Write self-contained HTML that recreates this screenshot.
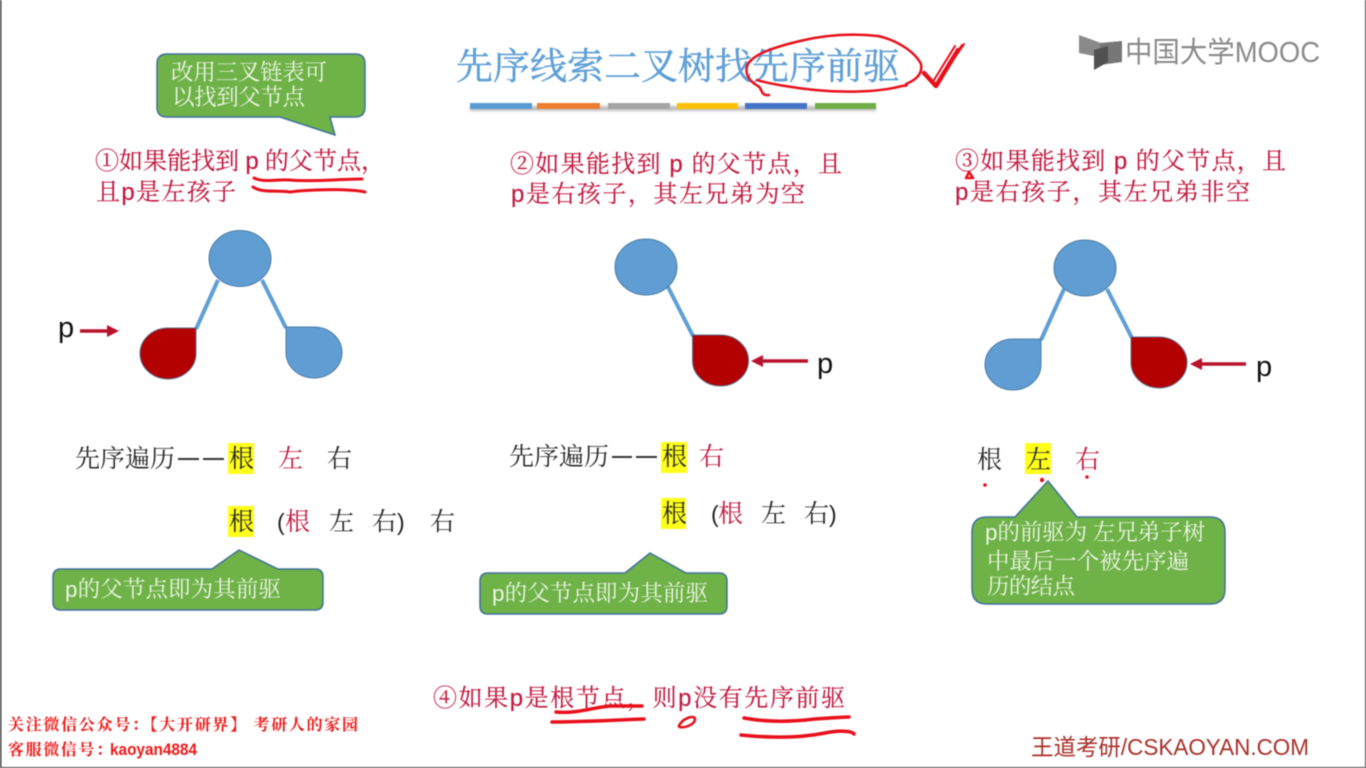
<!DOCTYPE html>
<html lang="zh">
<head>
<meta charset="utf-8">
<style>
html,body{margin:0;padding:0;background:#fff;width:1366px;height:768px;overflow:hidden}
svg{display:block;filter:blur(0.45px)}
text{font-family:"Noto Serif CJK SC","Liberation Serif",serif}
.s{font-family:"Liberation Sans","Noto Sans CJK SC",sans-serif}
.r{fill:#c2183f;font-size:24px;stroke:#c2183f;stroke-width:.15}
.k{fill:#2a2a2a;font-size:25px}
.w{fill:#eef6e6;font-size:22.500px}
.c{fill:#6fb248;stroke:#41719c;stroke-width:1.5}
.n{fill:#5f9dd3;stroke:#4f7da6;stroke-width:1}
.d{fill:#b30000;stroke:#5b6f90;stroke-width:1}
.l{stroke:#5f9fd6;stroke-width:4;fill:none}
.m{stroke:#e8101c;fill:none;stroke-linecap:round;stroke-linejoin:round}
.a{stroke:#b8122c;stroke-width:3.500;fill:none}
.h{fill:#ffff19}
</style>
</head>
<body>
<svg width="1366" height="768" viewBox="0 0 1366 768" xmlns="http://www.w3.org/2000/svg">
<defs><filter id="sh" x="-5%" y="-100%" width="110%" height="300%"><feGaussianBlur stdDeviation="1.2"/></filter></defs>
<rect width="1366" height="768" fill="#fff"/>
<rect x="0" y="0" width="1.5" height="768" fill="#444"/>
<rect x="1365" y="0" width="1" height="768" fill="#444"/>
<rect x="0" y="767" width="1366" height="1" fill="#444"/>

<!-- title -->
<text x="456" y="79" font-size="37" fill="#5f9fd6" stroke="#5f9fd6" stroke-width=".4" textLength="444" lengthAdjust="spacing">先序线索二叉树找先序前驱</text>
<g>
<rect x="470" y="106" width="406" height="5" fill="#888" opacity=".55" filter="url(#sh)"/>
<rect x="470" y="103" width="62" height="6" fill="#5b9bd5"/>
<rect x="537" y="103" width="63" height="6" fill="#ed7d31"/>
<rect x="608" y="103" width="62" height="6" fill="#a5a5a5"/>
<rect x="677" y="103" width="61" height="6" fill="#ffc000"/>
<rect x="745" y="103" width="62" height="6" fill="#4472c4"/>
<rect x="815" y="103" width="61" height="6" fill="#70ad47"/>
</g>
<path class="m" stroke-width="2.500" d="M769 95C760 96 763 89 758 86C749 81 745 74 747 66C752 54 775 47 800 41C825 35 850 33 878 36C897 40 915 52 921 64C923 74 916 80 906 84C908 87 904 85 902 86C880 92 845 93 815 90C795 88 770 84 757 80"/>
<path class="m" stroke-width="4.500" d="M924 73L936 86L958 50"/>
<path class="m" stroke-width="2" d="M936 84L962 45M938 82L964 44M934 80L955 46"/>

<!-- logo -->
<polygon points="1079,35 1112,47 1094,56 1079,53" fill="#8a8a8a"/>
<polygon points="1100,43 1122,41 1122,62 1100,65" fill="#777"/>
<polygon points="1094,50 1108,46 1108,62 1094,70" fill="#505050"/>
<text class="s" x="1125" y="62" font-size="29" fill="#8a8a8a" textLength="195" lengthAdjust="spacingAndGlyphs">中国大学MOOC</text>

<!-- top callout -->
<path class="c" d="M167 54H355Q365 54 365 64V107Q365 117 355 117H330L335 135L280 117H167Q157 117 157 107V64Q157 54 167 54Z"/>
<text class="w" x="171" y="80" textLength="156">改用三叉链表可</text>
<text class="w" x="172" y="105" textLength="133">以找到父节点</text>

<!-- condition texts -->
<text class="r" x="95" y="169" textLength="290">①如果能找到 <tspan class="s">p</tspan> 的父节点，</text>
<text class="r" x="96" y="200" textLength="140">且<tspan class="s">p</tspan>是左孩子</text>
<path class="m" stroke-width="3" d="M254 178C265 183 275 179 290 180C310 182 340 179 362 179"/>
<path class="m" stroke-width="3" d="M253 187C262 193 275 190 290 192C305 190 345 188 365 192"/>

<text class="r" x="510" y="172" textLength="332">②如果能找到 <tspan class="s">p</tspan> 的父节点，且</text>
<text class="r" x="511" y="202" textLength="294"><tspan class="s">p</tspan>是右孩子，其左兄弟为空</text>

<text class="r" x="955" y="169" textLength="331">③如果能找到 <tspan class="s">p</tspan> 的父节点，且</text>
<text class="r" x="955" y="200" textLength="295"><tspan class="s">p</tspan>是右孩子，其左兄弟非空</text>
<path class="m" stroke-width="2.500" d="M969 172L966 178L973 178Z"/>

<!-- tree 1 -->
<line class="l" x1="218" y1="280" x2="196" y2="329"/>
<line class="l" x1="262" y1="280" x2="286" y2="328"/>
<ellipse class="n" cx="240" cy="258.500" rx="31" ry="28"/>
<path class="d" d="M196 328V353.500A28 25.500 0 1 1 168 328Z"/>
<path class="n" d="M286 327V352.500A28 25.500 0 1 0 314 327Z"/>
<text class="s" x="58" y="337" font-size="29" fill="#111">p</text>
<line class="a" x1="80" y1="331" x2="110" y2="331"/>
<polygon points="119,331 107,325 107,337" fill="#b8122c"/>

<!-- tree 2 -->
<line class="l" x1="667" y1="285" x2="693" y2="336"/>
<ellipse class="n" cx="646" cy="267" rx="31" ry="28"/>
<path class="d" d="M692.500 335V360.500A28 25.500 0 1 0 720.500 335Z"/>
<line class="a" x1="808" y1="361" x2="760" y2="361"/>
<polygon points="751,361 763,355 763,367" fill="#b8122c"/>
<text class="s" x="817" y="373" font-size="29" fill="#111">p</text>

<!-- tree 3 -->
<line class="l" x1="1064" y1="289" x2="1041" y2="340"/>
<line class="l" x1="1107" y1="289" x2="1132" y2="338"/>
<ellipse class="n" cx="1085" cy="268" rx="31" ry="28"/>
<path class="n" d="M1041 339V364A28 25.500 0 1 1 1013 339Z"/>
<path class="d" d="M1131 337V362.500A28 25.500 0 1 0 1159 337Z"/>
<line class="a" x1="1246" y1="364" x2="1199" y2="364"/>
<polygon points="1190,364 1202,358 1202,370" fill="#b8122c"/>
<text class="s" x="1256" y="376" font-size="29" fill="#111">p</text>

<!-- traversal 1 -->
<text class="k" x="75" y="467" textLength="100">先序遍历</text>
<rect x="178" y="458" width="21" height="2" fill="#333"/>
<rect x="203" y="458" width="21" height="2" fill="#333"/>
<rect class="h" x="228" y="443" width="26" height="31"/>
<text class="k" x="229" y="467">根</text>
<text class="k" x="278" y="467" style="fill:#c2183f">左</text>
<text class="k" x="327" y="467">右</text>
<rect class="h" x="228" y="506" width="26" height="31"/>
<text class="k" x="229" y="530">根</text>
<text class="s" x="277" y="530" font-size="23" fill="#222">(</text>
<text class="k" x="285" y="530" style="fill:#c2183f">根</text>
<text class="k" x="329" y="530">左</text>
<text class="k" x="372" y="530">右</text>
<text class="s" x="397" y="530" font-size="23" fill="#222">)</text>
<text class="k" x="430" y="530">右</text>

<!-- traversal 2 -->
<text class="k" x="509" y="465" textLength="100">先序遍历</text>
<rect x="612" y="456" width="20" height="2" fill="#333"/>
<rect x="636" y="456" width="21" height="2" fill="#333"/>
<rect class="h" x="661" y="442" width="26" height="31"/>
<text class="k" x="662" y="465">根</text>
<text class="k" x="699" y="465" style="fill:#c2183f">右</text>
<rect class="h" x="661" y="498" width="25" height="31"/>
<text class="k" x="662" y="522">根</text>
<text class="s" x="711" y="522" font-size="23" fill="#222">(</text>
<text class="k" x="718" y="522" style="fill:#c2183f">根</text>
<text class="k" x="761" y="522">左</text>
<text class="k" x="804" y="522">右</text>
<text class="s" x="829" y="522" font-size="23" fill="#222">)</text>

<!-- traversal 3 -->
<rect class="h" x="1025" y="443" width="26" height="31"/>
<text class="k" x="977" y="468">根</text>
<text class="k" x="1026" y="468">左</text>
<text class="k" x="1075" y="468" style="fill:#c2183f">右</text>
<circle cx="985" cy="485" r="1.800" fill="#e8101c"/>
<circle cx="1042" cy="480" r="2.200" fill="#e8101c"/>
<circle cx="1087" cy="477" r="1.800" fill="#e8101c"/>

<!-- callouts -->
<path class="c" d="M61 569H212L239 550L278 569H315Q323 569 323 577V602Q323 610 315 610H61Q53 610 53 602V577Q53 569 61 569Z"/>
<text class="w" x="65" y="597" textLength="216"><tspan class="s">p</tspan>的父节点即为其前驱</text>

<path class="c" d="M488 573H625L650 553L686 573H719Q727 573 727 581V606Q727 614 719 614H488Q480 614 480 606V581Q480 573 488 573Z"/>
<text class="w" x="492" y="601" textLength="216"><tspan class="s">p</tspan>的父节点即为其前驱</text>

<path class="c" d="M987 517H1015L1048 481L1077 517H1210Q1225 517 1225 532V589Q1225 604 1210 604H987Q972 604 972 589V532Q972 517 987 517Z"/>
<text class="w" x="985" y="540" textLength="220"><tspan class="s">p</tspan>的前驱为 左兄弟子树</text>
<text class="w" x="987" y="569" textLength="202">中最后一个被先序遍</text>
<text class="w" x="987" y="594" textLength="88">历的结点</text>

<!-- bottom -->
<text class="r" x="433" y="706" textLength="412">④如果<tspan class="s">p</tspan>是根节点，则<tspan class="s">p</tspan>没有先序前驱</text>
<path class="m" stroke-width="3.500" d="M556 712C575 714 590 708 610 706C622 706 632 706 642 706"/>
<path class="m" stroke-width="3.500" d="M552 722C580 722 615 720 644 719"/>
<path class="m" stroke-width="2.500" d="M680 724C685 717 695 715 695 719C695 725 684 728 680 727C678 727 679 725 680 724Z"/>
<path class="m" stroke-width="3.500" d="M744 718C765 722 790 722 815 719C830 718 845 717 849 717"/>
<path class="m" stroke-width="3.500" d="M741 735C770 738 800 738 825 733C840 730 852 731 854 734"/>

<!-- watermarks -->
<text x="8" y="730" font-size="16" font-weight="700" fill="#ef1818" textLength="350">关注微信公众号：【大开研界】 考研人的家园</text>
<text x="8" y="755" font-size="16" font-weight="700" fill="#ef1818" textLength="104">客服微信号：</text>
<text class="s" x="110" y="755" font-size="17" font-weight="700" fill="#ef1818" textLength="87" lengthAdjust="spacingAndGlyphs">kaoyan4884</text>
<text class="s" x="1031" y="755" font-size="23" fill="#a8302a" textLength="278" lengthAdjust="spacingAndGlyphs">王道考研/CSKAOYAN.COM</text>
</svg>
</body>
</html>
